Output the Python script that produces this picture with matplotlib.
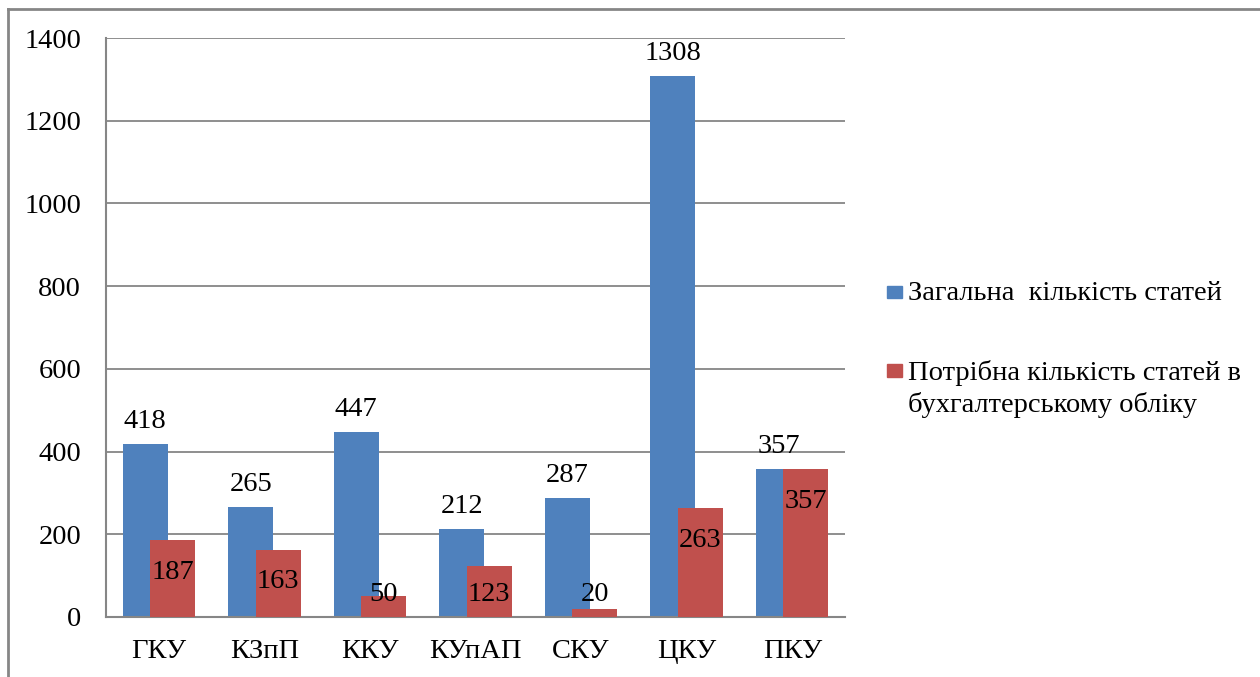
import matplotlib.pyplot as plt
import numpy as np
from matplotlib.lines import Line2D
from matplotlib.patches import Rectangle

categories = ["ГКУ", "КЗпП", "ККУ", "КУпАП", "СКУ", "ЦКУ", "ПКУ"]
total_articles = [418, 265, 447, 212, 287, 1308, 357]
needed_articles = [187, 163, 50, 123, 20, 263, 357]
series_names = ["Загальна  кількість статей",
                "Потрібна кількість статей в\nбухгалтерському обліку"]

BLUE = "#4F81BD"
RED = "#C0504D"
GRID = "#868686"
FS = 20.5

plt.rcParams['font.family'] = ['Liberation Serif', 'DejaVu Serif']

fig = plt.figure(figsize=(12.6, 6.77), dpi=100)
ax = fig.add_axes([106 / 1260, 60 / 677, 739 / 1260, 579 / 677])

x = np.arange(len(categories))
w = 0.426
off = 0.13
ax.bar(x - off, total_articles, w, color=BLUE, zorder=2)
ax.bar(x + off, needed_articles, w, color=RED, zorder=3)

# data labels
for xi, v in zip(x, total_articles):
    ax.annotate(str(v), (xi - off, v), xytext=(0, 11.5), textcoords="offset points",
                ha="center", va="baseline", fontsize=FS)
for xi, v in zip(x, needed_articles):
    ax.text(xi + off, max(v - 94, 39), str(v), ha="center", va="baseline",
            fontsize=FS, zorder=4)

ax.set_xlim(-0.5, len(categories) - 0.5)
ax.set_ylim(0, 1400)
ax.set_yticks(range(0, 1401, 200))
ax.set_xticks(x)
ax.set_xticklabels(categories)
ax.tick_params(axis="both", length=0, labelsize=FS)
ax.tick_params(axis="y", pad=18)
ax.tick_params(axis="x", pad=16)
ax.yaxis.grid(True, color=GRID, linewidth=1.3, zorder=0)
ax.set_axisbelow(True)
for s in ["top", "right"]:
    ax.spines[s].set_visible(False)
for s in ["left", "bottom"]:
    ax.spines[s].set_color(GRID)
    ax.spines[s].set_linewidth(1.5)

# legend drawn by hand
def fx(px):
    return px / 1260

def fy(py):
    return 1 - py / 677

fig.patches.append(Rectangle((fx(887), fy(298)), 15 / 1260, 12 / 677, color=BLUE,
                             transform=fig.transFigure, figure=fig))
fig.text(fx(908), fy(293), series_names[0], ha="left", va="center", fontsize=FS)
fig.patches.append(Rectangle((fx(887), fy(377)), 15 / 1260, 13 / 677, color=RED,
                             transform=fig.transFigure, figure=fig))
fig.text(fx(908), fy(360), series_names[1], ha="left", va="top", fontsize=FS,
         linespacing=1.3)

# outer chart border (top and left edges visible)
fig.add_artist(Line2D([fx(8), 1], [fy(9), fy(9)], color=GRID, linewidth=2,
                      transform=fig.transFigure))
fig.add_artist(Line2D([fx(8), fx(8)], [fy(9), 0], color=GRID, linewidth=2,
                      transform=fig.transFigure))

fig.savefig("out.png", dpi=100)
